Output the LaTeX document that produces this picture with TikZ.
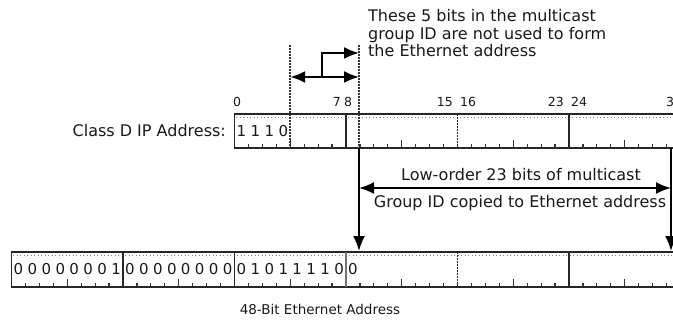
\documentclass[tikz,border=0pt]{standalone}
\usepackage{fontspec}
\setmainfont{DejaVu Sans}
\usetikzlibrary{arrows.meta}
\begin{document}
\begin{tikzpicture}[x=1pt,y=-1pt,
  border/.style={line width=1.8pt, draw=black!85},
  divider/.style={line width=1.6pt, draw=black!85},
  topdots/.style={line width=0.9pt, draw=black!50, dash pattern=on 1pt off 2.5pt},
  dotline/.style={line width=1.6pt, draw=black!80, dash pattern=on 1.5pt off 1.5pt},
  tickmark/.style={line width=1.2pt, draw=black!80},
  arr/.style={line width=1.9pt, draw=black, -{Latex[length=15pt,width=12pt]}},
  darr/.style={line width=1.9pt, draw=black, {Latex[length=15pt,width=12pt]}-{Latex[length=15pt,width=12pt]}},
  txt/.style={font=\fontsize{16}{17.5}\selectfont, inner sep=0pt, text=black!90},
  smalltxt/.style={font=\fontsize{13.5}{15}\selectfont, inner sep=0pt, text=black!90},
  num/.style={font=\fontsize{12.5}{13}\selectfont, inner sep=0pt, text=black!90},
  bitval/.style={font=\fontsize{15}{15}\selectfont, inner sep=0pt, text=black!90},
]
\useasboundingbox (0,0) rectangle (673,322);
\clip (0,0) rectangle (673,322);
\def\bw{13.9375}
% ---------- Class D IP register ----------
\coordinate (ipNW) at (234.5,114);
\coordinate (ipSW) at (234.5,148);
\draw[topdots] (236,117) -- (690,117);
\draw[border] (690,114) -- (ipNW) -- (ipSW) -- (690,148);
\foreach \i in {1,...,32}{
  \pgfmathsetmacro{\xx}{234.5+\i*\bw}
  \pgfmathsetmacro{\tl}{ifthenelse(mod(\i,8)==4,8,4.5)}
  \draw[tickmark] (\xx,148) -- (\xx,148-\tl);
}
\foreach \k in {1,3}{
  \draw[divider] (234.5+\k*8*\bw,114) -- (234.5+\k*8*\bw,148);
}
\draw[divider, dash pattern=on 2pt off 1pt] (234.5+16*\bw,114) -- (234.5+16*\bw,148);
\foreach \v [count=\i from 0] in {1,1,1,0}{
  \node[bitval] (ipbit\i) at (234.5+\i*\bw+0.5*\bw,131) {\v};
}
\node[txt, anchor=east] (cls) at (226,131) {Class D IP Address:};
% bit numbers
\node[num, anchor=west] (n0) at (233,102) {0};
\node[num, anchor=east] (n7) at (341,102) {7};
\node[num, anchor=west] (n8) at (344,102) {8};
\node[num, anchor=east] (n15) at (453,102) {15};
\node[num, anchor=west] (n16) at (460,102) {16};
\node[num, anchor=east] (n23) at (564,102) {23};
\node[num, anchor=west] (n24) at (571,102) {24};
\node[num, anchor=west] (n31) at (666,102) {31};
% ---------- Ethernet register ----------
\coordinate (ethNW) at (11.5,252);
\coordinate (ethSW) at (11.5,287);
\draw[topdots] (13,255) -- (690,255);
\draw[border] (690,252) -- (ethNW) -- (ethSW) -- (690,287);
\foreach \i in {1,...,48}{
  \pgfmathsetmacro{\xx}{11.5+\i*\bw}
  \pgfmathsetmacro{\tl}{ifthenelse(mod(\i,8)==4,8,4.5)}
  \draw[tickmark] (\xx,287) -- (\xx,287-\tl);
}
\foreach \k in {1,2,5}{
  \draw[divider] (11.5+\k*8*\bw,252) -- (11.5+\k*8*\bw,287);
}
\draw[divider, draw=black!55] (11.5+3*8*\bw,252) -- (11.5+3*8*\bw,287);
\draw[divider, dash pattern=on 2pt off 1pt] (11.5+4*8*\bw,252) -- (11.5+4*8*\bw,287);
\foreach \v [count=\i from 0] in {0,0,0,0,0,0,0,1, 0,0,0,0,0,0,0,0, 0,1,0,1,1,1,1,0, 0}{
  \node[bitval] (ethbit\i) at (11.5+\i*\bw+0.5*\bw,269.5) {\v};
}
\node[smalltxt] (ethlbl) at (320,309) {48-Bit Ethernet Address};
% ---------- 5 unused bits ----------
\coordinate (d4top) at (290.2,45);
\coordinate (d4bot) at (290.2,148);
\coordinate (d9top) at (359,45);
\coordinate (d9bot) at (359,148);
\draw[dotline] (d4top) -- (d4bot);
\draw[dotline] (d9top) -- (d9bot);
\coordinate (hL) at (290.2,77);
\coordinate (hR) at (359,77);
\coordinate (hM) at (322,77);
\coordinate (bendR) at (359,53);
\draw[darr] (hL) -- (hR);
\draw[arr] (hM) |- (bendR);
\node[txt, anchor=north west, align=left] (note) at (368,9.5)
  {These 5 bits in the multicast\\group ID are not used to form\\the Ethernet address};
% ---------- copied 23 bits ----------
\coordinate (cpL) at (359,148);
\coordinate (cpLb) at (359,251);
\coordinate (cpR) at (671,148);
\coordinate (cpRb) at (671,251);
\draw[arr] (cpL) -- (cpLb);
\draw[arr] (cpR) -- (cpRb);
\coordinate (spanL) at (359,188);
\coordinate (spanR) at (671,188);
\draw[darr] (spanL) -- (spanR);
\node[txt] (low) at (521,175) {Low-order 23 bits of multicast};
\node[txt] (grp) at (520,203) {Group ID copied to Ethernet address};
\end{tikzpicture}
\end{document}
